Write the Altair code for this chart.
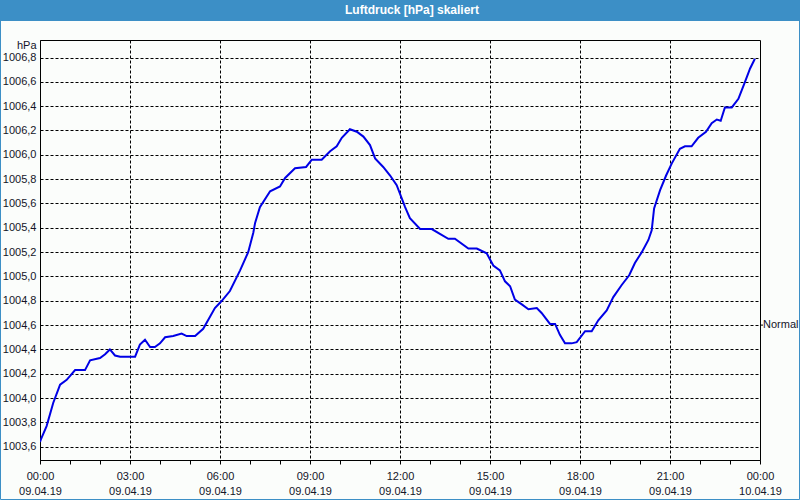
import altair as alt
import pandas as pd

# time in hours since 09.04.19 00:00
hours = [0.0, 0.03, 0.22, 0.44, 0.67, 0.89, 1.17, 1.5, 1.67, 2.0, 2.17, 2.33, 2.5, 2.67,
         3.0, 3.17, 3.33, 3.5, 3.67, 3.83, 4.0, 4.17, 4.44, 4.72, 4.89, 5.17, 5.44, 5.83,
         6.06, 6.33, 6.67, 6.94, 7.11, 7.17, 7.33, 7.67, 8.0, 8.17, 8.5, 8.87, 9.06, 9.39,
         9.67, 9.89, 10.06, 10.33, 10.56, 10.78, 11.0, 11.17, 11.44, 11.67, 11.89, 12.17,
         12.33, 12.67, 13.06, 13.33, 13.61, 13.83, 14.28, 14.56, 14.89, 15.11, 15.33, 15.5,
         15.67, 15.83, 16.06, 16.28, 16.56, 16.72, 17.0, 17.17, 17.33, 17.5, 17.72, 17.89,
         18.17, 18.39, 18.61, 18.89, 19.11, 19.39, 19.64, 19.83, 20.06, 20.28, 20.39, 20.47,
         20.67, 20.87, 21.06, 21.33, 21.5, 21.72, 21.94, 22.2, 22.39, 22.56, 22.69, 22.83,
         23.06, 23.28, 23.5, 23.67, 23.83]
pressure = [1003.64, 1003.66, 1003.77, 1003.96, 1004.11, 1004.15, 1004.23, 1004.23, 1004.31,
            1004.33, 1004.36, 1004.40, 1004.35, 1004.34, 1004.34, 1004.34, 1004.44, 1004.48,
            1004.42, 1004.42, 1004.45, 1004.50, 1004.51, 1004.53, 1004.51, 1004.51, 1004.57,
            1004.74, 1004.80, 1004.88, 1005.05, 1005.20, 1005.36, 1005.44, 1005.57, 1005.70,
            1005.74, 1005.81, 1005.89, 1005.90, 1005.96, 1005.96, 1006.03, 1006.07, 1006.14,
            1006.21, 1006.19, 1006.15, 1006.08, 1005.97, 1005.90, 1005.83, 1005.75, 1005.57,
            1005.48, 1005.39, 1005.39, 1005.35, 1005.31, 1005.31, 1005.23, 1005.23, 1005.19,
            1005.09, 1005.05, 1004.96, 1004.92, 1004.81, 1004.77, 1004.73, 1004.74, 1004.70,
            1004.61, 1004.61, 1004.52, 1004.45, 1004.45, 1004.46, 1004.55, 1004.55, 1004.64,
            1004.72, 1004.83, 1004.93, 1005.01, 1005.11, 1005.20, 1005.30, 1005.38, 1005.56,
            1005.71, 1005.83, 1005.93, 1006.05, 1006.07, 1006.07, 1006.14, 1006.19, 1006.26,
            1006.29, 1006.28, 1006.39, 1006.39, 1006.46, 1006.60, 1006.71, 1006.79]

y_ticks = [1003.6, 1003.8, 1004.0, 1004.2, 1004.4, 1004.6, 1004.8, 1005.0, 1005.2,
           1005.4, 1005.6, 1005.8, 1006.0, 1006.2, 1006.4, 1006.6, 1006.8]
x_ticks = list(range(0, 25))
title_text = "Luftdruck [hPa] skaliert"
normal_level = 1004.6

df = pd.DataFrame({"t": hours, "p": pressure})

FONT = "Liberation Sans"
TXT = "#141428"
BLUE = "#3C8FC6"

x_scale = alt.Scale(domain=[0, 24], nice=False, zero=False)
y_scale = alt.Scale(domain=[1003.491, 1006.944], nice=False, zero=False)

x_axis = alt.Axis(
    values=x_ticks,
    tickCount=40,
    title=None,
    grid=True,
    gridDash=[3, 2],
    gridColor="black",
    gridOpacity={"condition": {"test": "datum.value % 3 === 0 && datum.value > 0 && datum.value < 24", "value": 1}, "value": 0},
    tickSize=4,
    tickColor="black",
    domainColor="black",
    labelExpr="datum.value % 3 === 0 ? [(datum.value === 24 ? '00' : (datum.value < 10 ? '0' : '') + datum.value) + ':00', datum.value === 24 ? '10.04.19' : '09.04.19'] : ''",
    labelFont=FONT,
    labelFontSize=11,
    labelColor=TXT,
    labelPadding=6,
    labelLineHeight=15,
    labelFlush=False,
    labelOverlap=False,
)

y_axis = alt.Axis(
    values=y_ticks,
    tickCount=40,
    title="hPa",
    titleAngle=0,
    titleAlign="right",
    titleBaseline="middle",
    titleX=-4,
    titleY=5,
    titleFont=FONT,
    titleFontSize=11,
    titleFontWeight="normal",
    titleColor=TXT,
    grid=True,
    gridDash=[3, 2],
    gridColor="black",
    tickSize=0,
    domainColor="black",
    labelExpr="replace(format(datum.value, '.1f'), '.', ',')",
    labelFont=FONT,
    labelFontSize=11,
    labelColor=TXT,
    labelPadding=4,
    labelOverlap=False,
    labelFlush=False,
)

line = alt.Chart(df).mark_line(color="#0000E6", strokeWidth=2, clip=True).encode(
    x=alt.X("t:Q", scale=x_scale, axis=x_axis),
    y=alt.Y("p:Q", scale=y_scale, axis=y_axis),
)

normal = alt.Chart(pd.DataFrame({"p": [normal_level], "label": ["Normal"]})).mark_text(
    align="left", baseline="middle", font=FONT, fontSize=11, color=TXT, dx=3
).encode(
    x=alt.value(720),
    y=alt.Y("p:Q", scale=y_scale, axis=y_axis),
    text="label:N",
)

normal_tick = alt.Chart(pd.DataFrame({"p": [normal_level]})).mark_rule(color="black").encode(
    x=alt.value(720), x2=alt.value(723), y=alt.Y("p:Q", scale=y_scale, axis=y_axis)
)

bar = alt.Chart(pd.DataFrame({"a": [0]})).mark_rect(color=BLUE).encode(
    x=alt.value(-40), x2=alt.value(760), y=alt.value(-40), y2=alt.value(-19)
)

title = alt.Chart(pd.DataFrame({"txt": [title_text]})).mark_text(
    font=FONT, fontSize=12, fontWeight="bold", color="white", align="center", baseline="middle"
).encode(
    x=alt.value(372), y=alt.value(-30), text="txt:N"
)

frame = alt.Chart(pd.DataFrame({"a": [0]})).mark_rect(fill=None, stroke=BLUE, strokeWidth=1).encode(
    x=alt.value(-39.5), x2=alt.value(759.5), y=alt.value(-39.5), y2=alt.value(459.5)
)

chart = alt.layer(bar, title, frame, line, normal_tick, normal).properties(
    width=720,
    height=420,
    padding={"left": 40, "top": 40, "right": 40, "bottom": 40},
    autosize=alt.AutoSizeParams(type="none"),
    background="#FBFDFB",
).configure_view(stroke="black", strokeWidth=1)

chart.save("out.html", embed_options={"renderer": "svg", "actions": False})
